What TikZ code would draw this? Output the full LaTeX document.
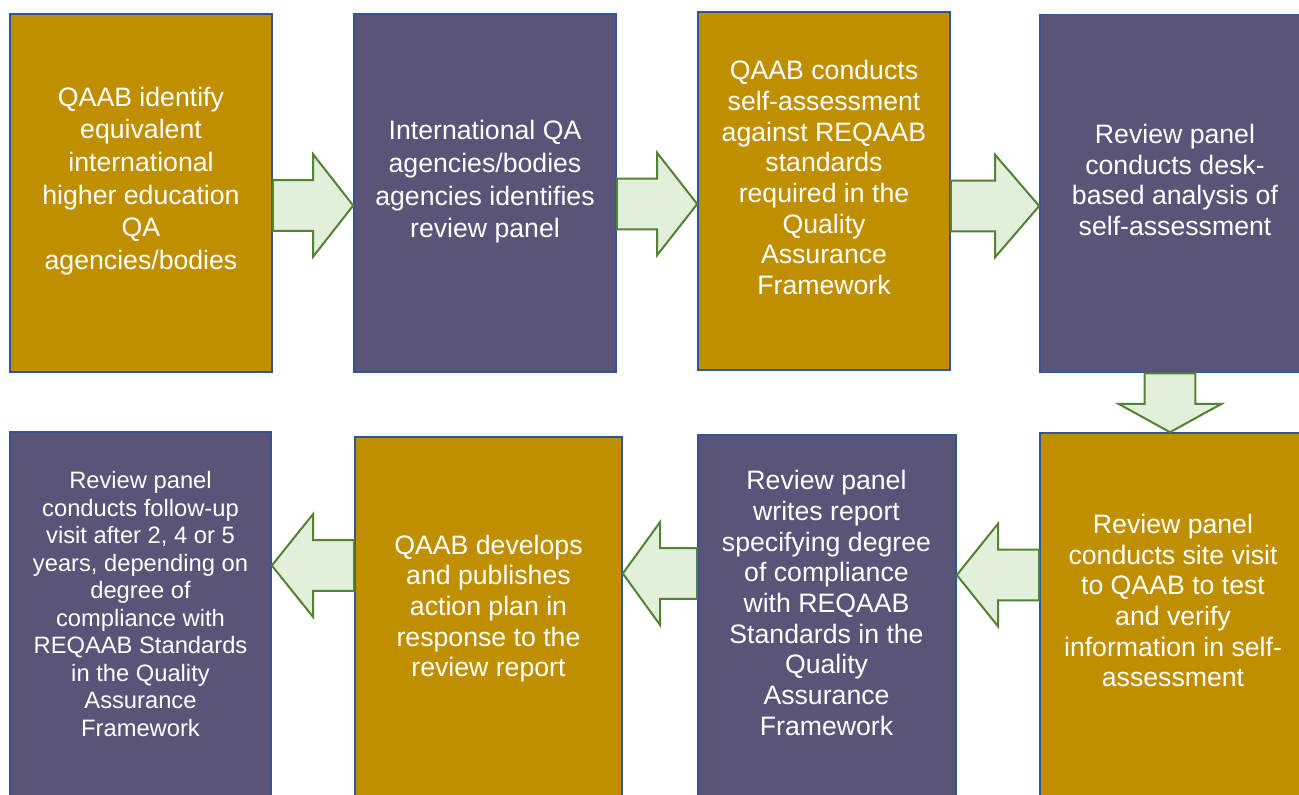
\documentclass[tikz,border=0pt]{standalone}
\usepackage{fontspec}
\setmainfont{Liberation Sans}
\usetikzlibrary{calc}
\definecolor{gold}{HTML}{BF8F00}
\definecolor{slate}{HTML}{5A5479}
\definecolor{edgeblue}{HTML}{2F5597}
\definecolor{leaf}{HTML}{548235}
\definecolor{mint}{HTML}{E2EFDA}

\tikzset{
  stepbox/.style={draw=edgeblue, line width=1.2pt, rectangle, inner sep=0pt,
    minimum width=196.5pt, minimum height=268.5pt},
  goldbox/.style={stepbox, fill=gold},
  slatebox/.style={stepbox, fill=slate},
  boxtext/.style={text=white, align=center, inner sep=0pt,
    font=\fontsize{20}{23}\selectfont},
  blockarrow/.style={draw=leaf, fill=mint, line width=1.5pt, line join=miter}
}

% block arrows between two boxes, #3 = centre line in px
\newcommand{\blockright}[3]{%
\draw[blockarrow] let \p1=(#1.east), \p2=(#2.west), \p3=(0,#3),
  \p4=($(#1.east)!0.5!(#2.west)$) in
  (\x1,\y3+19pt) -- (\x4,\y3+19pt) -- (\x4,\y3+38.5pt) -- (\x2,\y3)
  -- (\x4,\y3-38.5pt) -- (\x4,\y3-19pt) -- (\x1,\y3-19pt) -- cycle;}
\newcommand{\blockleft}[3]{%
\draw[blockarrow] let \p1=(#1.west), \p2=(#2.east), \p3=(0,#3),
  \p4=($(#1.west)!0.5!(#2.east)$) in
  (\x1,\y3+19pt) -- (\x4,\y3+19pt) -- (\x4,\y3+38.5pt) -- (\x2,\y3)
  -- (\x4,\y3-38.5pt) -- (\x4,\y3-19pt) -- (\x1,\y3-19pt) -- cycle;}
\newcommand{\blockdown}[3]{%
\draw[blockarrow] let \p1=(#1.south), \p2=(#2.north), \p3=(#3,0),
  \p4=($(#1.south)!0.52!(#2.north)$) in
  (\x3-19pt,\y1) -- (\x3-19pt,\y4) -- (\x3-38.5pt,\y4) -- (\x3,\y2)
  -- (\x3+38.5pt,\y4) -- (\x3+19pt,\y4) -- (\x3+19pt,\y1) -- cycle;}

\begin{document}
\begin{tikzpicture}[x=0.75pt,y=-0.75pt]
\useasboundingbox (0,0) rectangle (1299,794);
\clip (0,0) rectangle (1299,794);

%top row
\node[goldbox] (identify) at (141,193) {};
\node[slatebox] (panel) at (485,193) {};
\node[goldbox, minimum width=189pt] (selfassess) at (824,191) {};
\node[slatebox, minimum width=199.5pt] (desk) at (1173,193.5) {};

%bottom row
\node[goldbox, minimum width=199.5pt, minimum height=277.5pt] (sitevisit) at (1173,618) {};
\node[slatebox, minimum width=193.5pt, minimum height=277.5pt] (report) at (827,620) {};
\node[goldbox, minimum width=200.25pt, minimum height=277.5pt] (actionplan) at (488.5,622) {};
\node[slatebox, minimum width=195.75pt, minimum height=277.5pt] (followup) at (140.5,617) {};

%texts
\node[boxtext, font=\fontsize{20}{24.5}\selectfont] (identifytext) at (141,181)
  {QAAB identify\\equivalent\\international\\higher education\\QA\\agencies/bodies};
\node[boxtext, font=\fontsize{20}{24.5}\selectfont] (paneltext) at (485,182)
  {International QA\\agencies/bodies\\agencies identifies\\review panel};
\node[boxtext] (selfassesstext) at (824,177.5)
  {QAAB conducts\\self-assessment\\against REQAAB\\standards\\required in the\\Quality\\Assurance\\Framework};
\node[boxtext] (desktext) at (1175,180)
  {Review panel\\conducts desk-\\based analysis of\\self-assessment};
\node[boxtext] (sitevisittext) at (1173,600.5)
  {Review panel\\conducts site visit\\to QAAB to test\\and verify\\information in self-\\assessment};
\node[boxtext] (reporttext) at (826.5,603)
  {Review panel\\writes report\\specifying degree\\of compliance\\with REQAAB\\Standards in the\\Quality\\Assurance\\Framework};
\node[boxtext] (actionplantext) at (488.5,608.5)
  {QAAB develops\\and publishes\\action plan in\\response to the\\review report};
\node[boxtext, font=\fontsize{17.8}{20.6}\selectfont] (followuptext) at (140.5,604)
  {Review panel\\conducts follow-up\\visit after 2, 4 or 5\\years, depending on\\degree of\\compliance with\\REQAAB Standards\\in the Quality\\Assurance\\Framework};

%arrows
\blockright{identify}{panel}{205.5}
\blockright{panel}{selfassess}{204}
\blockright{selfassess}{desk}{206}
\blockdown{desk}{sitevisit}{1170}
\blockleft{sitevisit}{report}{575}
\blockleft{report}{actionplan}{573.5}
\blockleft{actionplan}{followup}{565.5}
\end{tikzpicture}
\end{document}
